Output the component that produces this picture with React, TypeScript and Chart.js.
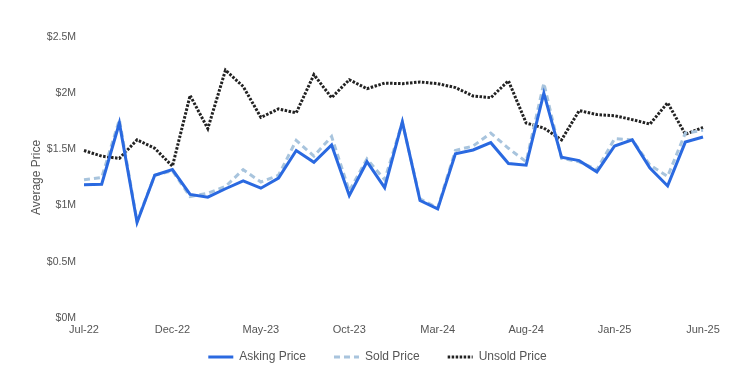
import React, { useEffect, useRef } from "react";
import { Chart, registerables } from "chart.js";

Chart.register(...registerables);

const months = [
  "Jul-22", "Aug-22", "Sep-22", "Oct-22", "Nov-22", "Dec-22",
  "Jan-23", "Feb-23", "Mar-23", "Apr-23", "May-23", "Jun-23",
  "Jul-23", "Aug-23", "Sep-23", "Oct-23", "Nov-23", "Dec-23",
  "Jan-24", "Feb-24", "Mar-24", "Apr-24", "May-24", "Jun-24",
  "Jul-24", "Aug-24", "Sep-24", "Oct-24", "Nov-24", "Dec-24",
  "Jan-25", "Feb-25", "Mar-25", "Apr-25", "May-25", "Jun-25",
];

const askingPrice = [
  1.185, 1.19, 1.735, 0.85, 1.27, 1.32, 1.1, 1.075, 1.15, 1.22, 1.155, 1.245,
  1.49, 1.385, 1.54, 1.09, 1.39, 1.16, 1.745, 1.045, 0.97, 1.46, 1.495, 1.56,
  1.375, 1.36, 2.0, 1.43, 1.4, 1.3, 1.53, 1.585, 1.335, 1.175, 1.565, 1.61,
];

const soldPrice = [
  1.23, 1.25, 1.765, 0.86, 1.27, 1.31, 1.08, 1.11, 1.17, 1.32, 1.21, 1.27,
  1.58, 1.44, 1.615, 1.13, 1.415, 1.23, 1.74, 1.06, 0.98, 1.49, 1.53, 1.645,
  1.51, 1.39, 2.09, 1.42, 1.39, 1.32, 1.595, 1.585, 1.36, 1.26, 1.645, 1.67,
];

const unsoldPrice = [
  1.49, 1.44, 1.42, 1.585, 1.51, 1.35, 1.98, 1.685, 2.205, 2.06, 1.785, 1.86,
  1.825, 2.165, 1.96, 2.12, 2.04, 2.09, 2.085, 2.1, 2.085, 2.05, 1.975, 1.96,
  2.11, 1.735, 1.69, 1.585, 1.845, 1.81, 1.8, 1.765, 1.725, 1.915, 1.635, 1.695,
];

const yTicks = [0, 0.5, 1, 1.5, 2, 2.5];

const FONT = "'Liberation Sans', Arial, sans-serif";

export default function App() {
  const ref = useRef<HTMLCanvasElement | null>(null);

  useEffect(() => {
    document.body.style.margin = "0";
    const canvas = ref.current;
    if (!canvas) return;
    const chart = new Chart(canvas, {
      type: "line",
      data: {
        labels: months,
        datasets: [
          {
            label: "Asking Price",
            data: askingPrice.map((v) => v * 1e6),
            borderColor: "#2a69e0",
            backgroundColor: "#2a69e0",
            borderWidth: 3,
            pointRadius: 0,
            pointStyle: "line",
            tension: 0,
          },
          {
            label: "Sold Price",
            data: soldPrice.map((v) => v * 1e6),
            borderColor: "#a8c4dd",
            backgroundColor: "#a8c4dd",
            borderWidth: 3,
            borderDash: [6, 4],
            pointRadius: 0,
            pointStyle: "line",
            tension: 0,
          },
          {
            label: "Unsold Price",
            data: unsoldPrice.map((v) => v * 1e6),
            borderColor: "#222222",
            backgroundColor: "#222222",
            borderWidth: 3,
            borderDash: [2.5, 1.5],
            pointRadius: 0,
            pointStyle: "line",
            tension: 0,
          },
        ],
      },
      options: {
        animation: false,
        responsive: false,
        maintainAspectRatio: false,
        layout: { padding: { left: 0, right: 0, top: 37, bottom: 16 } },
        plugins: {
          tooltip: { enabled: false },
          legend: {
            position: "bottom",
            labels: {
              usePointStyle: true,
              pointStyleWidth: 25,
              boxHeight: 12,
              padding: 10,
              color: "#555",
              font: { family: FONT, size: 12 },
              generateLabels: (ch: any) => {
                const items = Chart.defaults.plugins.legend.labels.generateLabels(ch);
                return items.map((it: any, i: number) => {
                  const ds = ch.data.datasets[it.datasetIndex];
                  return {
                    ...it,
                    text: i < items.length - 1 ? it.text + "\u2002\u2002\u2002" : it.text,
                    lineDash: ds.borderDash || [],
                    lineWidth: 3,
                    strokeStyle: ds.borderColor,
                    fillStyle: ds.borderColor,
                  };
                });
              },
            },
          },
        },
        scales: {
          x: {
            afterFit: (scale: any) => {
              scale.height = 23;
            },
            grid: { display: false, drawTicks: false },
            border: { display: false },
            ticks: {
              autoSkip: false,
              maxRotation: 0,
              padding: 5,
              color: "#555",
              font: { family: FONT, size: 11 },
              callback: (_v: any, i: number) => (i % 5 === 0 ? months[i] : ""),
            },
          },
          y: {
            min: 0,
            max: 2.5e6,
            afterFit: (scale: any) => {
              scale.width = 84;
            },
            afterBuildTicks: (scale: any) => {
              scale.ticks = yTicks.map((v) => ({ value: v * 1e6 }));
            },
            grid: { display: false, drawTicks: false },
            border: { display: false },
            title: {
              display: true,
              text: "Average Price",
              color: "#555",
              font: { family: FONT, size: 12 },
              padding: { top: 29, bottom: 0 },
            },
            ticks: {
              padding: 8,
              color: "#555",
              font: { family: FONT, size: 10.5 },
              callback: (v: any) => "$" + Number(v) / 1e6 + "M",
            },
          },
          yRight: {
            position: "right",
            display: true,
            afterFit: (scale: any) => {
              scale.width = 52;
            },
            grid: { display: false, drawTicks: false },
            border: { display: false },
            ticks: { display: false },
          },
        },
      },
    });
    return () => chart.destroy();
  }, []);

  return (
    <div style={{ width: 755, height: 389 }}>
      <canvas ref={ref} width={755} height={389} style={{ display: "block" }} />
    </div>
  );
}
